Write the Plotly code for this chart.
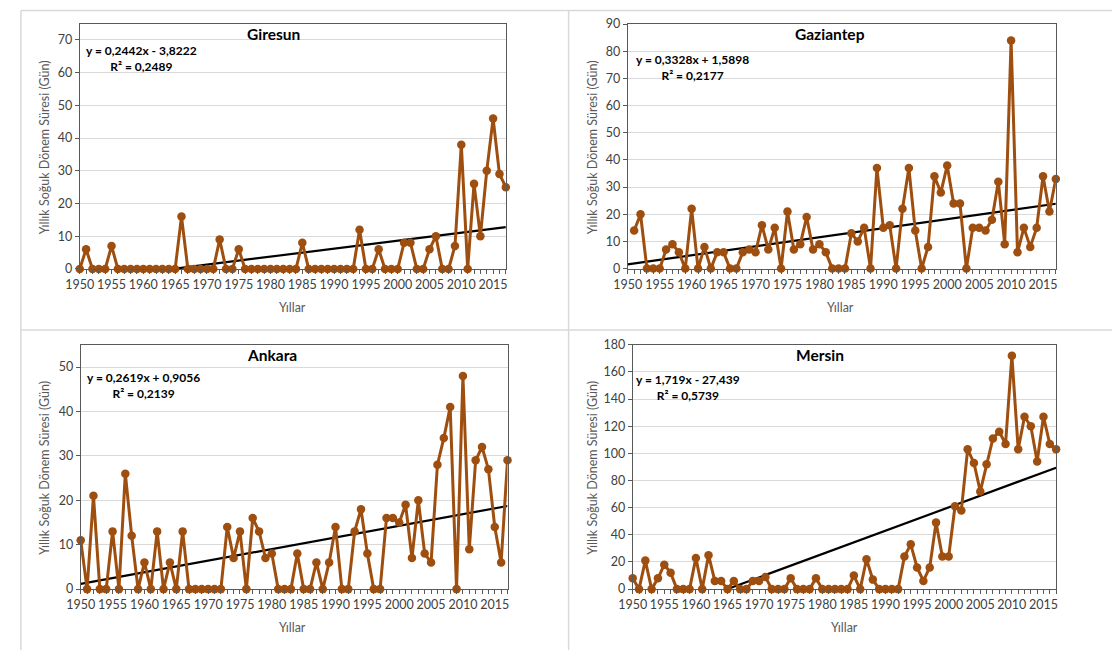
import plotly.graph_objects as go

W, H = 1114, 657

years_full = list(range(1950, 2018))
years_gaz = list(range(1951, 2018))

giresun = [0, 6, 0, 0, 0, 7, 0, 0, 0, 0, 0, 0, 0, 0, 0, 0, 16, 0, 0, 0,
           0, 0, 9, 0, 0, 6, 0, 0, 0, 0, 0, 0, 0, 0, 0, 8, 0, 0, 0, 0,
           0, 0, 0, 0, 12, 0, 0, 6, 0, 0, 0, 8, 8, 0, 0, 6, 10, 0, 0, 7,
           38, 0, 26, 10, 30, 46, 29, 25]

gaziantep = [14, 20, 0, 0, 0, 7, 9, 6, 0, 22, 0, 8, 0, 6, 6, 0, 0, 6, 7, 6,
             16, 7, 15, 0, 21, 7, 9, 19, 7, 9, 6, 0, 0, 0, 13, 10, 15, 0, 37, 15,
             16, 0, 22, 37, 14, 0, 8, 34, 28, 38, 24, 24, 0, 15, 15, 14, 18, 32, 9, 84,
             6, 15, 8, 15, 34, 21, 33]

ankara = [11, 0, 21, 0, 0, 13, 0, 26, 12, 0, 6, 0, 13, 0, 6, 0, 13, 0, 0, 0,
          0, 0, 0, 14, 7, 13, 0, 16, 13, 7, 8, 0, 0, 0, 8, 0, 0, 6, 0, 6,
          14, 0, 0, 13, 18, 8, 0, 0, 16, 16, 15, 19, 7, 20, 8, 6, 28, 34, 41, 0,
          48, 9, 29, 32, 27, 14, 6, 29]

mersin = [8, 0, 21, 0, 8, 18, 12, 0, 0, 0, 23, 0, 25, 6, 6, 0, 6, 0, 0, 6,
          6, 9, 0, 0, 0, 8, 0, 0, 0, 8, 0, 0, 0, 0, 0, 10, 0, 22, 7, 0,
          0, 0, 0, 24, 33, 16, 6, 16, 49, 24, 24, 61, 58, 103, 93, 72, 92, 111, 116, 107,
          172, 103, 127, 120, 94, 127, 107, 103]

station_names = ["Giresun", "Gaziantep", "Ankara", "Mersin"]
trend_slope = [0.2442, 0.3328, 0.2619, 1.719]
trend_intercept = [-3.8222, 1.5898, 0.9056, -27.439]
eq_labels = ["y = 0,2442x - 3,8222<br>R² = 0,2489",
             "y = 0,3328x + 1,5898<br>R² = 0,2177",
             "y = 0,2619x + 0,9056<br>R² = 0,2139",
             "y = 1,719x - 27,439<br>R² = 0,5739"]
y_max = [75, 90, 55, 180]
y_dtick = [10, 10, 10, 20]
x_ticks = [1950, 1955, 1960, 1965, 1970, 1975, 1980, 1985, 1990, 1995, 2000, 2005, 2010, 2015]

series = [(years_full, giresun), (years_gaz, gaziantep), (years_full, ankara), (years_full, mersin)]

# panel plot areas in pixels: x0, x1, ytop, ybottom
panels = [(66.7, 499.0, 16.0, 267.0),
          (622.7, 1057.0, 16.5, 266.7),
          (67.7, 500.7, 344.7, 594.7),
          (627.7, 1057.3, 344.7, 594.7)]
title_pos = [(263, 27), (828, 27), (262, 355), (818, 355)]
eq_pos = [(129, 51.5), (688, 60.5), (131, 386), (684, 388)]
ytitle_pos = [(31, 143), (587, 143), (31, 471), (587, 471)]
xtitle_pos = [(283, 306), (839, 306), (283, 634), (843, 634)]

BROWN = "#9E4E0E"
FONT = "Lato"

def px(x):
    return x / W

def py(y):
    return 1 - y / H

fig = go.Figure()
annotations = []

for i in range(4):
    xs, vals = series[i]
    ax = "" if i == 0 else str(i + 1)
    x0, x1, yt, yb = panels[i]
    first = xs[0]
    tx = years_full
    ty = [trend_slope[i] * (yr - first + 1) + trend_intercept[i] for yr in tx]
    fig.add_trace(go.Scatter(x=tx, y=ty, mode="lines",
                             line=dict(color="black", width=2.2),
                             xaxis="x" + ax, yaxis="y" + ax, showlegend=False,
                             hoverinfo="skip"))
    fig.add_trace(go.Scatter(x=xs, y=vals, mode="lines+markers",
                             line=dict(color=BROWN, width=3),
                             marker=dict(color=BROWN, size=8.5),
                             cliponaxis=False,
                             xaxis="x" + ax, yaxis="y" + ax, showlegend=False))
    common_font = dict(family=FONT, size=12.5, color="#404040")
    fig.layout["xaxis" + ax] = dict(
        domain=[px(x0), px(x1)], anchor="y" + ax, range=[1950, 2017],
        tickmode="array", tickvals=x_ticks, ticks="outside", ticklen=4, tickangle=0,
        tickcolor="#595959", tickfont=common_font,
        minor=dict(dtick=1, tick0=1950, ticks="outside", ticklen=4, tickcolor="#595959", showgrid=False),
        showgrid=False, showline=True, mirror=True, linecolor="#595959", linewidth=1,
        zeroline=False, fixedrange=True)
    fig.layout["yaxis" + ax] = dict(
        domain=[py(yb), py(yt)], anchor="x" + ax, range=[0, y_max[i]],
        dtick=y_dtick[i], ticks="outside", ticklen=4, tickcolor="#595959",
        tickfont=common_font, showgrid=True, gridcolor="#D9D9D9", gridwidth=1,
        showline=True, mirror=True, linecolor="#595959", linewidth=1,
        zeroline=False, fixedrange=True)
    annotations.append(dict(x=px(title_pos[i][0]), y=py(title_pos[i][1]), xref="paper", yref="paper",
                            text="<b>" + station_names[i] + "</b>", showarrow=False,
                            font=dict(family=FONT, size=15.5, color="#000000"),
                            xanchor="center", yanchor="middle"))
    annotations.append(dict(x=px(eq_pos[i][0]), y=py(eq_pos[i][1]), xref="paper", yref="paper",
                            text="<b>" + eq_labels[i] + "</b>", showarrow=False, align="center",
                            font=dict(family=FONT, size=12, color="#000000"),
                            xanchor="center", yanchor="middle"))
    annotations.append(dict(x=px(ytitle_pos[i][0]), y=py(ytitle_pos[i][1]), xref="paper", yref="paper",
                            text="Yıllık Soğuk Dönem Süresi (Gün)", showarrow=False, textangle=-90,
                            font=dict(family=FONT, size=12.5, color="#595959"),
                            xanchor="center", yanchor="middle"))
    annotations.append(dict(x=px(xtitle_pos[i][0]), y=py(xtitle_pos[i][1]), xref="paper", yref="paper",
                            text="Yıllar", showarrow=False,
                            font=dict(family=FONT, size=12.5, color="#595959"),
                            xanchor="center", yanchor="middle"))

border = dict(color="#D9D9D9", width=1.5)
shapes = [
    dict(type="line", xref="paper", yref="paper", x0=px(7), x1=1, y0=py(2.5), y1=py(2.5), line=border),
    dict(type="line", xref="paper", yref="paper", x0=px(7), x1=1, y0=py(329.5), y1=py(329.5), line=border),
    dict(type="line", xref="paper", yref="paper", x0=px(7), x1=px(7), y0=0, y1=py(2.5), line=border),
    dict(type="line", xref="paper", yref="paper", x0=px(562.7), x1=px(562.7), y0=0, y1=py(2.5), line=border),
]

fig.update_layout(width=W, height=H, margin=dict(l=0, r=0, t=0, b=0),
                  paper_bgcolor="white", plot_bgcolor="white",
                  annotations=annotations, shapes=shapes,
                  font=dict(family=FONT))

fig.write_html("out.html", config={"displayModeBar": False},
               post_script="document.body.style.margin='0';document.body.style.overflow='hidden';")
